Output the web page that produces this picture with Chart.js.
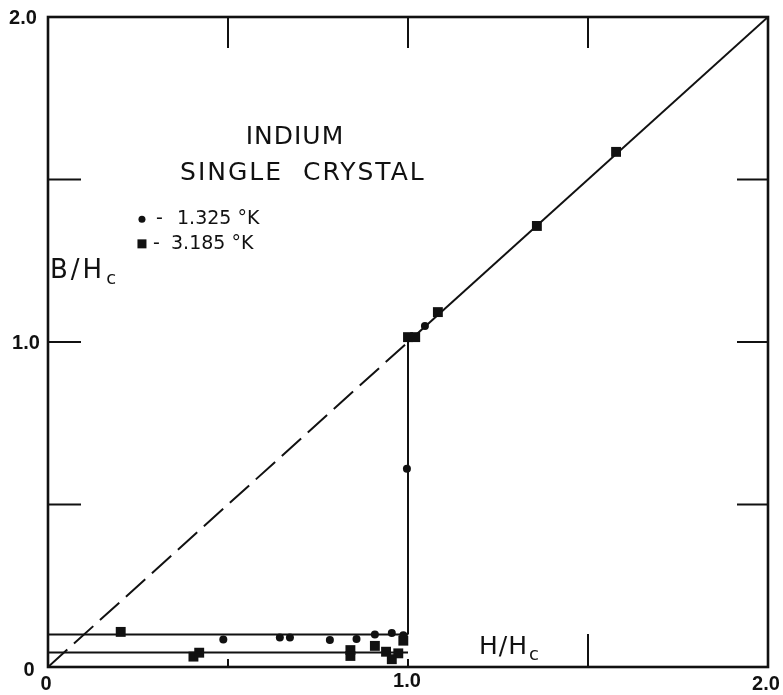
<!DOCTYPE html>
<html>
<head>
<meta charset="utf-8">
<script src="https://cdn.jsdelivr.net/npm/chart.js@4.4.1/dist/chart.umd.min.js"></script>
<style>
  html, body { margin: 0; padding: 0; background: #fff; }
  #wrap { width: 783px; height: 695px; }
</style>
</head>
<body>
<div id="wrap"><canvas id="c" width="783" height="695"></canvas></div>
<script>
// Measured induction B/Hc against applied field H/Hc, indium single crystal
const circleX = [0.487, 0.644, 0.672, 0.783, 0.857, 0.908, 0.955, 0.987, 0.997, 1.047];
const circleY = [0.085, 0.091, 0.091, 0.083, 0.086, 0.100, 0.105, 0.098, 0.610, 1.049];

const squareX = [0.202, 0.404, 0.420, 0.840, 0.840, 0.908, 0.939, 0.955, 0.973, 0.987, 1.000, 1.020, 1.083, 1.358, 1.578];
const squareY = [0.108, 0.032, 0.044, 0.052, 0.034, 0.065, 0.047, 0.024, 0.042, 0.081, 1.015, 1.015, 1.092, 1.357, 1.585];

// Reference lines: B = H (dashed below Hc, solid above), jump at H = Hc,
// and the two intermediate-state levels
const diagLowX = [0, 1.0];
const diagLowY = [0, 1.0];
const diagHighX = [1.0, 2.0];
const diagHighY = [1.0, 2.0];
const jumpX = [1.0, 1.0];
const jumpY = [0.10, 1.0];
const upperLevelX = [0, 1.0];
const upperLevelY = [0.10, 0.10];
const lowerLevelX = [0, 1.0];
const lowerLevelY = [0.045, 0.045];

const tickValues = [0.5, 1.0, 1.5];
const legendLabels = ['1.325 °K', '3.185 °K'];

const pts = (xs, ys) => xs.map((x, i) => ({ x: x, y: ys[i] }));

const lineSet = (xs, ys, dash) => ({
  data: pts(xs, ys),
  showLine: true,
  borderColor: '#111',
  borderWidth: 2,
  borderDash: dash || [],
  pointRadius: 0,
  fill: false
});

const SANS = '"DejaVu Sans", "Liberation Sans", sans-serif';
const NUM = '"Liberation Sans", "DejaVu Sans", sans-serif';

const decor = {
  id: 'decor',
  beforeDatasetsDraw(chart) {
    const ctx = chart.ctx;
    const xs = chart.scales.x, ys = chart.scales.y;
    const L = xs.getPixelForValue(0), R = xs.getPixelForValue(2);
    const T = ys.getPixelForValue(2), B = ys.getPixelForValue(0);
    ctx.save();
    ctx.strokeStyle = '#111';
    ctx.lineWidth = 2.6;
    ctx.strokeRect(L, T, R - L, B - T);
    ctx.lineWidth = 2;
    ctx.beginPath();
    tickValues.forEach(v => {
      const px = xs.getPixelForValue(v);
      const py = ys.getPixelForValue(v);
      // top and sides: long inward ticks
      ctx.moveTo(px, T); ctx.lineTo(px, T + 31);
      ctx.moveTo(L, py); ctx.lineTo(L + 33, py);
      ctx.moveTo(R, py); ctx.lineTo(R - 31, py);
      // bottom: short ticks under the data lines, long one beyond Hc
      const len = v > 1.2 ? 33 : 8;
      ctx.moveTo(px, B); ctx.lineTo(px, B - len);
    });
    ctx.stroke();
    ctx.restore();
  },
  afterDraw(chart) {
    const ctx = chart.ctx;
    const xs = chart.scales.x, ys = chart.scales.y;
    const X = v => xs.getPixelForValue(v);
    const Y = v => ys.getPixelForValue(v);
    ctx.save();
    ctx.fillStyle = '#111';
    ctx.textBaseline = 'middle';

    // axis numbers
    ctx.font = 'bold 20px ' + NUM;
    ctx.textAlign = 'center';
    ctx.fillText('2.0', 23, Y(2) + 1);
    ctx.fillText('1.0', 26, Y(1) + 1);
    ctx.fillText('0', 29, Y(0) + 3);
    ctx.fillText('0', 46, Y(0) + 17);
    ctx.fillText('1.0', X(1) - 1, Y(0) + 14);
    ctx.fillText('2.0', X(2) - 2, Y(0) + 17);

    // title block
    ctx.font = '25px ' + SANS;
    ctx.letterSpacing = '1px';
    ctx.fillText('INDIUM', X(0.686), Y(1.628));
    ctx.letterSpacing = '2px';
    ctx.fillText('SINGLE  CRYSTAL', X(0.708), Y(1.517));
    ctx.letterSpacing = '0px';

    // legend
    ctx.font = '19px ' + SANS;
    ctx.textAlign = 'left';
    const r1 = Y(1.378), r2 = Y(1.302);
    ctx.beginPath(); ctx.arc(X(0.261), r1, 3.5, 0, Math.PI * 2); ctx.fill();
    ctx.fillRect(X(0.261) - 4.5, r2 - 4.5, 9, 9);
    ctx.fillText('-', 156, r1);
    ctx.fillText(legendLabels[0], 177, r1);
    ctx.fillText('-', 153, r2);
    ctx.fillText(legendLabels[1], 171, r2);

    // axis titles
    ctx.font = '26px ' + SANS;
    ctx.letterSpacing = '3px';
    ctx.fillText('B/H', 50, 271);
    let w = ctx.measureText('B/H').width;
    ctx.letterSpacing = '0px';
    ctx.font = '18px ' + SANS;
    ctx.fillText('c', 50 + w + 1, 279);

    ctx.font = '25px ' + SANS;
    ctx.letterSpacing = '1px';
    ctx.fillText('H/H', 479, 647);
    w = ctx.measureText('H/H').width;
    ctx.letterSpacing = '0px';
    ctx.font = '18px ' + SANS;
    ctx.fillText('c', 479 + w + 1, 655);
    ctx.restore();
  }
};

new Chart(document.getElementById('c'), {
  type: 'scatter',
  data: {
    datasets: [
      lineSet(diagLowX, diagLowY, [26, 9]),
      lineSet(diagHighX, diagHighY),
      lineSet(jumpX, jumpY),
      lineSet(upperLevelX, upperLevelY),
      lineSet(lowerLevelX, lowerLevelY),
      {
        label: legendLabels[0],
        data: pts(circleX, circleY),
        pointStyle: 'circle',
        pointRadius: 4,
        backgroundColor: '#111',
        borderColor: '#111',
        borderWidth: 0
      },
      {
        label: legendLabels[1],
        data: pts(squareX, squareY),
        pointStyle: 'rect',
        pointRadius: 7,
        backgroundColor: '#111',
        borderColor: '#111',
        borderWidth: 0
      }
    ]
  },
  options: {
    responsive: false,
    animation: false,
    layout: { padding: { left: 48, top: 17, right: 15, bottom: 28 } },
    plugins: { legend: { display: false }, tooltip: { enabled: false } },
    scales: {
      x: { type: 'linear', min: 0, max: 2, display: false },
      y: { type: 'linear', min: 0, max: 2, display: false }
    }
  },
  plugins: [decor]
});
</script>
</body>
</html>
